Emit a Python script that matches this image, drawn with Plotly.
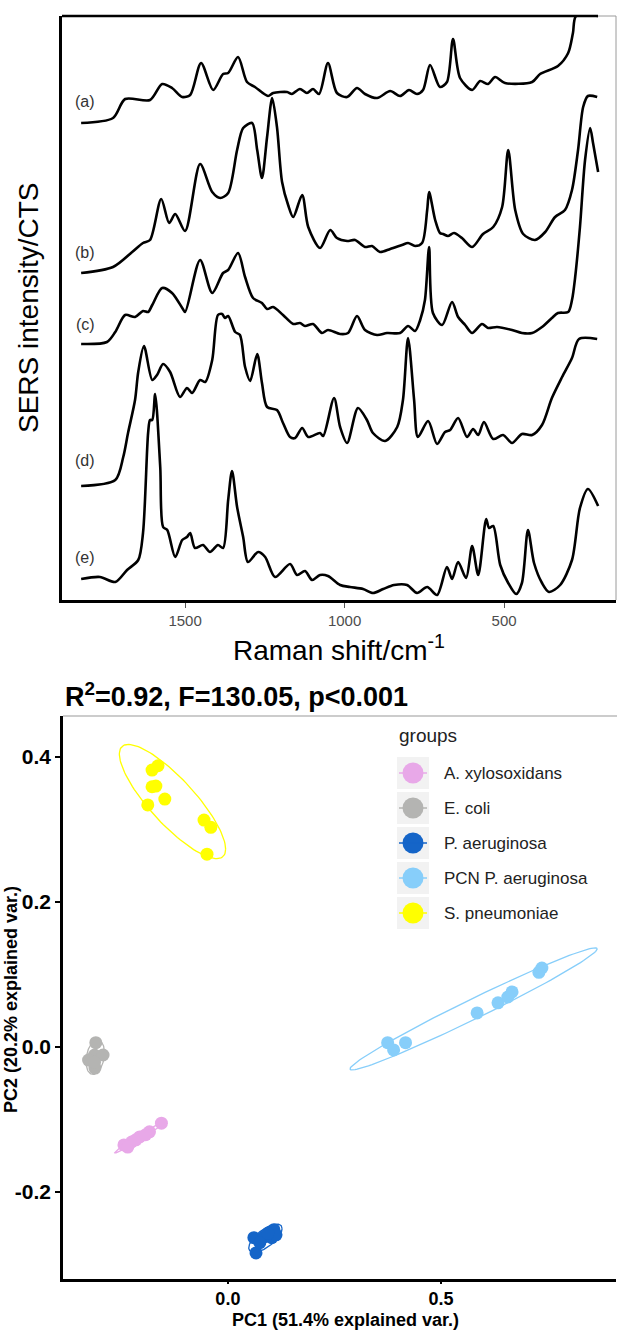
import numpy as np
import plotly.graph_objects as go

W, H = 617, 1330

# ---------------- Spectra: Raman shift (cm-1) and relative SERS intensity ----------------
A_WN = [1826,1726,1688,1610,1572,1541,1509,1484,1450,1412,1381,1365,1334,1306,1281,1240,1224,1180,1165,1140,
        1118,1099,1080,1052,1024,992,961,936,898,857,826,798,773,754,732,701,679,660,638,600,
        575,550,528,497,412,387,331,299,284,274,205]
A_INT = [0,5,24,23,39,35,26,28,60,33,49,50,66,41,36,27,30,31,29,34,
         30,34,29,60,30,26,35,29,25,32,27,33,29,33,58,36,41,84,45,33,
         42,39,46,40,41,49,57,70,90,107,107]

B_WN = [1826,1726,1666,1632,1610,1575,1550,1531,1500,1453,1415,1390,1365,1337,1318,1290,1274,1259,1243,1227,
        1212,1196,1177,1161,1133,1114,1077,1045,1024,992,967,936,914,889,857,820,801,779,757,741,
        735,716,701,691,676,657,632,600,566,534,506,487,465,440,403,371,340,309,287,268,252,237,208]
B_INT = [0,6,21,30,33,74,50,59,42,109,81,75,80,123,145,150,123,95,136,175,
         146,91,68,56,78,46,25,43,35,32,33,26,27,21,24,28,30,27,30,63,
         81,53,40,39,37,40,35,26,39,46,66,123,63,39,33,41,56,63,83,123,166,177,176]

C_WN = [1826,1745,1719,1688,1657,1632,1616,1603,1572,1541,1509,1500,1453,1415,1381,1365,1334,1312,1287,1259,
        1243,1224,1193,1161,1140,1124,1099,1071,1052,1014,989,961,936,898,867,826,801,779,763,748,
        735,723,694,663,644,622,600,569,550,522,475,444,412,381,350,331,299,287,277,262,246,230,221,205]
C_INT = [0,2,12,29,27,33,32,39,56,51,36,32,84,51,71,74,91,67,46,41,
         35,37,29,20,21,18,20,11,14,10,11,28,14,9,11,11,18,13,24,44,
         97,31,19,42,27,19,11,20,16,17,14,11,11,17,26,31,32,44,67,117,184,216,201,172]

D_WN = [1826,1719,1694,1679,1657,1647,1629,1603,1588,1569,1547,1516,1494,1478,1453,1437,1415,1397,1384,1375,
        1365,1343,1328,1312,1296,1274,1259,1243,1212,1193,1171,1155,1133,1114,1077,1067,1033,1014,992,958,
        930,911,873,835,817,801,782,770,738,710,685,669,644,616,597,581,563,534,503,475,
        444,412,381,350,318,287,265,208]
D_INT = [0,6,29,53,86,114,140,106,111,122,114,89,98,93,106,104,126,171,172,168,
         170,154,151,119,105,132,103,79,76,63,49,48,58,49,53,50,88,59,43,78,
         66,53,45,59,86,148,86,49,65,42,54,56,68,49,57,51,64,47,51,43,
         52,51,61,88,109,128,147,147]

E_WN = [1826,1767,1719,1682,1647,1632,1616,1610,1603,1594,1578,1569,1556,1531,1509,1494,1484,1469,1444,1422,
        1397,1381,1365,1353,1337,1318,1303,1271,1249,1218,1171,1149,1124,1102,1077,1052,1014,983,942,911,
        879,845,804,773,741,710,679,663,644,619,600,581,556,547,534,512,487,462,444,425,
        406,381,359,324,287,262,237,205]
E_INT = [0,2,-3,9,19,46,146,159,159,185,112,52,49,22,39,42,46,31,34,27,
         34,31,79,108,72,42,17,27,22,2,15,4,8,-1,4,3,-6,-8,-10,-14,
         -10,-6,-6,-14,-8,-16,12,0,17,1,33,4,60,51,53,14,-4,-15,-4,49,
         16,-4,-13,-6,19,71,90,73]

SPEC_LABELS = ["(a)", "(b)", "(c)", "(d)", "(e)"]
SPEC_TICKS = [1500, 1000, 500]

# ---------------- PCA scores ----------------
GROUPS = ["A. xylosoxidans", "E. coli", "P. aeruginosa", "PCN P. aeruginosa", "S. pneumoniae"]
PC1_AX = [-0.156,-0.184,-0.207,-0.226,-0.244,-0.235,-0.216,-0.193]
PC2_AX = [-0.105,-0.117,-0.124,-0.131,-0.135,-0.138,-0.128,-0.121]
PC1_EC = [-0.310,-0.313,-0.327,-0.293,-0.312,-0.313]
PC2_EC = [0.006,-0.011,-0.018,-0.011,-0.029,-0.021]
PC1_PA = [0.066,0.061,0.085,0.108,0.103,0.075,0.113,0.094]
PC2_PA = [-0.284,-0.263,-0.262,-0.252,-0.263,-0.270,-0.259,-0.257]
PC1_PCN = [0.375,0.389,0.417,0.585,0.634,0.657,0.667,0.730,0.737]
PC2_PCN = [0.006,-0.004,0.006,0.047,0.061,0.069,0.076,0.103,0.109]
PC1_SP = [-0.188,-0.178,-0.169,-0.178,-0.164,-0.148,-0.056,-0.040,-0.049]
PC2_SP = [0.334,0.359,0.360,0.382,0.388,0.342,0.313,0.303,0.266]
PCA_XTICKS = [0.0, 0.5]
PCA_YTICKS = [-0.2, 0.0, 0.2, 0.4]

# ---------------- styling ----------------
OFFSETS = [477, 327, 256, 114, 21]
COLORS = ["#E8A8E8", "#B4B4B2", "#1565C8", "#87CEFA", "#FFFF00"]
FONT = "Liberation Sans, Arial, sans-serif"
ELLIPSE_R = 2.0


def px_x(x):
    return x / W


def px_y(y):
    return 1 - y / H


fig = go.Figure()

spectra = [(A_WN, A_INT), (B_WN, B_INT), (C_WN, C_INT), (D_WN, D_INT), (E_WN, E_INT)]
for (wn, inten), off in zip(spectra, OFFSETS):
    fig.add_trace(go.Scatter(
        x=wn, y=[v + off for v in inten], mode="lines",
        line=dict(color="black", width=2.6, shape="spline", smoothing=0.8),
        xaxis="x", yaxis="y", showlegend=False, hoverinfo="skip"))


def ellipse(xs, ys, r=ELLIPSE_R, n=120):
    pts = np.column_stack([xs, ys])
    mu = pts.mean(axis=0)
    cov = np.cov(pts.T)
    L = np.linalg.cholesky(cov)
    t = np.linspace(0, 2 * np.pi, n)
    circ = np.column_stack([np.cos(t), np.sin(t)])
    e = circ @ L.T * r + mu
    return e[:, 0], e[:, 1]


pca = [(PC1_AX, PC2_AX), (PC1_EC, PC2_EC), (PC1_PA, PC2_PA), (PC1_PCN, PC2_PCN), (PC1_SP, PC2_SP)]
for (xs, ys), col in zip(pca, COLORS):
    ex, ey = ellipse(xs, ys)
    fig.add_trace(go.Scatter(x=ex, y=ey, mode="lines", line=dict(color=col, width=1.3),
                             xaxis="x2", yaxis="y2", showlegend=False, hoverinfo="skip"))
for (xs, ys), col, g in zip(pca, COLORS, GROUPS):
    fig.add_trace(go.Scatter(x=xs, y=ys, mode="markers", name=g,
                             marker=dict(color=col, size=13, line=dict(width=0)),
                             xaxis="x2", yaxis="y2", showlegend=False))

# legend keys (pixel overlay axes)
LEG_ROWS = [773, 808, 843, 878, 913]
shapes = []
for yy, col in zip(LEG_ROWS, COLORS):
    shapes.append(dict(type="rect", xref="x3", yref="y3", x0=397, x1=429, y0=yy - 16, y1=yy + 16,
                       fillcolor="#F2F2F2", line=dict(width=0), layer="below"))
    shapes.append(dict(type="line", xref="x3", yref="y3", x0=399, x1=427, y0=yy, y1=yy,
                       line=dict(color=col, width=1.5)))
fig.add_trace(go.Scatter(x=[413] * 5, y=LEG_ROWS, mode="markers",
                         marker=dict(color=COLORS, size=21, line=dict(width=0)),
                         xaxis="x3", yaxis="y3", showlegend=False, hoverinfo="skip"))

# frames
shapes += [
    dict(type="line", xref="x3", yref="y3", x0=62, x1=598, y0=16, y1=16, line=dict(color="black", width=2.5)),
    dict(type="line", xref="x3", yref="y3", x0=598, x1=616, y0=16, y1=16, line=dict(color="#9a9a9a", width=1)),
    dict(type="line", xref="x3", yref="y3", x0=616, x1=616, y0=16, y1=600, line=dict(color="#9a9a9a", width=1)),
    dict(type="line", xref="x3", yref="y3", x0=63, x1=617, y0=716, y1=716, line=dict(color="#9a9a9a", width=1.2)),
]

annotations = []
LABEL_Y = [101, 252, 324, 460, 557]
for lab, yy in zip(SPEC_LABELS, LABEL_Y):
    annotations.append(dict(text=lab, x=85, y=yy, xref="x3", yref="y3", showarrow=False,
                            font=dict(family=FONT, size=16, color="#333333")))
annotations += [
    dict(text="SERS intensity/CTS", x=28, y=308, xref="x3", yref="y3", showarrow=False, textangle=-90,
         font=dict(family=FONT, size=28, color="black")),
    dict(text="Raman shift/cm<sup>-1</sup>", x=339, y=648, xref="x3", yref="y3", showarrow=False,
         font=dict(family=FONT, size=28, color="black")),
    dict(text="<b>R<sup>2</sup>=0.92, F=130.05, p&lt;0.001</b>", x=63, y=695, xref="x3", yref="y3",
         showarrow=False, xanchor="left", font=dict(family=FONT, size=27, color="black")),
    dict(text="<b>PC1 (51.4% explained var.)</b>", x=345, y=1320, xref="x3", yref="y3", showarrow=False,
         font=dict(family=FONT, size=18, color="black")),
    dict(text="<b>PC2 (20.2% explained var.)</b>", x=11, y=1000, xref="x3", yref="y3", showarrow=False,
         textangle=-90, font=dict(family=FONT, size=18, color="black")),
    dict(text="groups", x=397, y=735, xref="x3", yref="y3", showarrow=False, xanchor="left",
         font=dict(family=FONT, size=19, color="#222222")),
]
for yy, g in zip(LEG_ROWS, GROUPS):
    annotations.append(dict(text=g, x=442, y=yy, xref="x3", yref="y3", showarrow=False, xanchor="left",
                            font=dict(family=FONT, size=17, color="#222222")))

fig.update_layout(
    width=W, height=H, margin=dict(l=0, r=0, t=0, b=0),
    paper_bgcolor="white", plot_bgcolor="rgba(0,0,0,0)", showlegend=False,
    font=dict(family=FONT),
    xaxis=dict(domain=[px_x(62), px_x(616)], range=[1886, 149], anchor="y",
               tickvals=SPEC_TICKS, ticktext=[str(t) for t in SPEC_TICKS],
               ticks="outside", ticklen=5, tickwidth=1, tickcolor="#555555",
               tickfont=dict(family=FONT, size=15, color="#4D4D4D"),
               showline=True, linecolor="black", linewidth=2.5, showgrid=False, zeroline=False),
    yaxis=dict(domain=[px_y(600), px_y(16)], range=[0, 584], anchor="x",
               showticklabels=False, ticks="", showline=True, linecolor="black", linewidth=2.5,
               showgrid=False, zeroline=False),
    xaxis2=dict(domain=[px_x(63), px_x(616)], range=[-0.387, 0.911], anchor="y2",
                tickvals=PCA_XTICKS, ticktext=["<b>%.1f</b>" % v for v in PCA_XTICKS],
                ticks="outside", ticklen=2, tickwidth=1.5, tickcolor="black",
                tickfont=dict(family=FONT, size=18, color="black"),
                showline=True, linecolor="black", linewidth=2.5, showgrid=False, zeroline=False),
    yaxis2=dict(domain=[px_y(1279), px_y(716)], range=[-0.32, 0.4566], anchor="x2",
                tickvals=PCA_YTICKS, ticktext=["<b>%.1f</b>" % v for v in PCA_YTICKS],
                ticks="outside", ticklen=5, tickwidth=1.5, tickcolor="black",
                tickfont=dict(family=FONT, size=21, color="black"),
                showline=True, linecolor="black", linewidth=2.5, showgrid=False, zeroline=False),
    xaxis3=dict(domain=[0, 1], range=[0, W], anchor="y3", visible=False, fixedrange=True),
    yaxis3=dict(domain=[0, 1], range=[H, 0], anchor="x3", visible=False, fixedrange=True),
    shapes=shapes, annotations=annotations,
)

fig.write_html("out.html")
